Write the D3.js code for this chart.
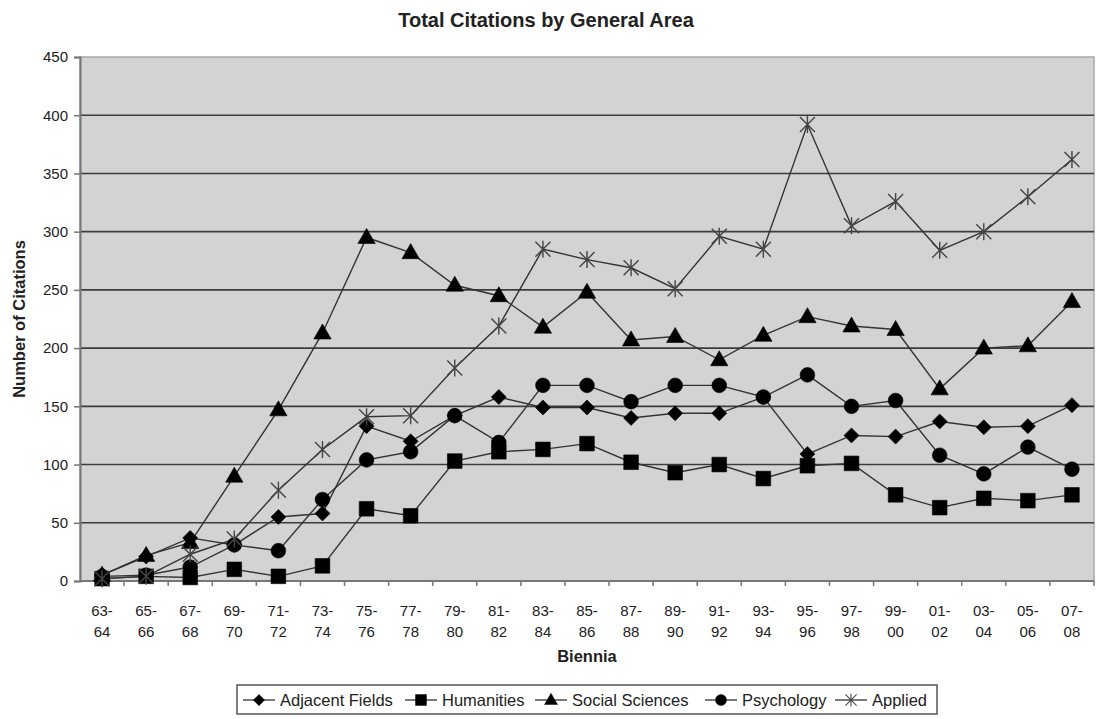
<!DOCTYPE html>
<html>
<head>
<meta charset="utf-8">
<script src="https://cdn.jsdelivr.net/npm/d3@7"></script>
<style>
  html, body { margin: 0; padding: 0; background: #fff; }
  svg { display: block; font-family: "Liberation Sans", Arial, sans-serif; }
</style>
</head>
<body>
<svg id="chart" width="1097" height="719"></svg>
<script>
// Biennium labels on the x axis
const categories = ["63-64","65-66","67-68","69-70","71-72","73-74","75-76","77-78","79-80","81-82",
  "83-84","85-86","87-88","89-90","91-92","93-94","95-96","97-98","99-00","01-02","03-04","05-06","07-08"];

// Citation counts per general area
const adjacentFields = [5, 21, 37, 31, 55, 58, 133, 120, 142, 158, 149, 149, 140, 144, 144, 158, 109, 125, 124, 137, 132, 133, 151];
const humanities     = [2, 4, 3, 10, 4, 13, 62, 56, 103, 111, 113, 118, 102, 93, 100, 88, 99, 101, 74, 63, 71, 69, 74];
const socialSciences = [5, 22, 33, 90, 147, 213, 295, 282, 254, 245, 218, 248, 207, 210, 190, 211, 227, 219, 216, 165, 200, 202, 240];
const psychology     = [4, 5, 12, 31, 26, 70, 104, 111, 142, 119, 168, 168, 154, 168, 168, 158, 177, 150, 155, 108, 92, 115, 96];
const applied        = [2, 4, 23, 36, 78, 113, 141, 142, 183, 219, 285, 276, 269, 251, 296, 285, 392, 305, 326, 284, 300, 330, 362];

const yTicks = [0, 50, 100, 150, 200, 250, 300, 350, 400, 450];

const series = [
  { name: "Adjacent Fields", values: adjacentFields, marker: "diamond" },
  { name: "Humanities",      values: humanities,     marker: "square" },
  { name: "Social Sciences", values: socialSciences, marker: "triangle" },
  { name: "Psychology",      values: psychology,     marker: "circle" },
  { name: "Applied",         values: applied,        marker: "star" }
];

const svg = d3.select("#chart");
const plot = { left: 80, right: 1094, top: 57, bottom: 581 };

const x = d3.scalePoint().domain(categories).range([plot.left, plot.right]).padding(0.5);
const y = d3.scaleLinear().domain([0, 450]).range([plot.bottom, plot.top]);

// Marker shapes
function markerPath(type) {
  switch (type) {
    case "diamond": {
      const r = 7.5;
      return `M0,${-r}L${r},0L0,${r}L${-r},0Z`;
    }
    case "square":   return d3.symbol(d3.symbolSquare, 215)();
    case "triangle": return d3.symbol(d3.symbolTriangle, 130)();
    case "circle":   return d3.symbol(d3.symbolCircle, 170)();
    case "star": {
      const r = 7.5;
      return `M${-r},${-r}L${r},${r}M${-r},${r}L${r},${-r}M0,${-r - 1}L0,${r + 1}`;
    }
  }
}
function drawMarker(g, type) {
  const p = g.append("path").attr("d", markerPath(type));
  if (type === "star") {
    p.attr("fill", "none").attr("stroke", "#444").attr("stroke-width", 1.4);
  } else {
    p.attr("fill", "#000").attr("stroke", "#000").attr("stroke-width", 0.6);
  }
  if (type === "triangle") p.attr("transform", "translate(0,1)");
}

// Plot background
svg.append("rect")
  .attr("x", plot.left).attr("y", plot.top)
  .attr("width", plot.right - plot.left).attr("height", plot.bottom - plot.top)
  .attr("fill", "#d3d3d3").attr("stroke", "#a8a8a8").attr("stroke-width", 1.5);

// Horizontal gridlines
svg.append("g").selectAll("line")
  .data(yTicks.filter(t => t > 0 && t < 450))
  .join("line")
  .attr("x1", plot.left).attr("x2", plot.right)
  .attr("y1", d => y(d)).attr("y2", d => y(d))
  .attr("stroke", "#3c3c3c").attr("stroke-width", 1.6);

// Y axis
const yAxis = svg.append("g")
  .attr("transform", `translate(${plot.left},0)`)
  .call(d3.axisLeft(y).tickValues(yTicks).tickSize(6).tickPadding(6));
yAxis.select(".domain").attr("stroke", "#777").attr("stroke-width", 2);
yAxis.selectAll(".tick line").attr("stroke", "#777").attr("stroke-width", 1.5);
yAxis.selectAll(".tick text").attr("font-size", 15).attr("fill", "#222")
  .attr("font-family", "Liberation Sans, Arial, sans-serif");

// X axis: tick marks at category boundaries
const step = x.step();
const xAxisG = svg.append("g");
xAxisG.append("line")
  .attr("x1", plot.left).attr("x2", plot.right)
  .attr("y1", plot.bottom).attr("y2", plot.bottom)
  .attr("stroke", "#777").attr("stroke-width", 2);
xAxisG.selectAll("line.tk")
  .data(categories)
  .join("line").attr("class", "tk")
  .attr("x1", d => x(d) + step / 2).attr("x2", d => x(d) + step / 2)
  .attr("y1", plot.bottom).attr("y2", plot.bottom + 5)
  .attr("stroke", "#777").attr("stroke-width", 1.5);
const xLabels = xAxisG.selectAll("text.cat")
  .data(categories)
  .join("text").attr("class", "cat")
  .attr("text-anchor", "middle")
  .attr("font-size", 15).attr("fill", "#222");
xLabels.append("tspan").attr("x", d => x(d)).attr("y", 616).text(d => d.split("-")[0] + "-");
xLabels.append("tspan").attr("x", d => x(d)).attr("y", 637).text(d => d.split("-")[1]);

// Series lines and markers
const line = d3.line().x((d, i) => x(categories[i])).y(d => y(d));
series.forEach(s => {
  svg.append("path")
    .datum(s.values)
    .attr("d", line)
    .attr("fill", "none")
    .attr("stroke", "#333")
    .attr("stroke-width", 1.4);
});
series.forEach(s => {
  svg.append("g").selectAll("g")
    .data(s.values)
    .join("g")
    .attr("transform", (d, i) => `translate(${x(categories[i])},${y(d)})`)
    .each(function () { drawMarker(d3.select(this), s.marker); });
});

// Titles
svg.append("text")
  .attr("x", 546).attr("y", 27)
  .attr("text-anchor", "middle")
  .attr("font-size", 20).attr("font-weight", "bold").attr("fill", "#222")
  .text("Total Citations by General Area");

svg.append("text")
  .attr("x", (plot.left + plot.right) / 2).attr("y", 662)
  .attr("text-anchor", "middle")
  .attr("font-size", 16.5).attr("font-weight", "bold").attr("fill", "#222")
  .text("Biennia");

svg.append("text")
  .attr("transform", `translate(25,${(plot.top + plot.bottom) / 2}) rotate(-90)`)
  .attr("text-anchor", "middle")
  .attr("font-size", 16.5).attr("font-weight", "bold").attr("fill", "#222")
  .text("Number of Citations");

// Legend
const legendStarts = [243, 405, 535, 705, 835];
const legend = svg.append("g");
legend.append("rect")
  .attr("x", 237).attr("y", 685).attr("width", 700).attr("height", 29)
  .attr("fill", "#fff").attr("stroke", "#555").attr("stroke-width", 1.5);
series.forEach((s, i) => {
  const g = legend.append("g").attr("transform", `translate(${legendStarts[i]},700)`);
  g.append("line").attr("x1", 0).attr("x2", 32).attr("y1", 0).attr("y2", 0)
    .attr("stroke", "#333").attr("stroke-width", 1.3);
  const m = g.append("g").attr("transform", "translate(16,0) scale(0.75)");
  drawMarker(m, s.marker);
  g.append("text").attr("x", 37).attr("y", 6)
    .attr("font-size", 16.5).attr("fill", "#222")
    .text(s.name);
});
</script>
</body>
</html>
